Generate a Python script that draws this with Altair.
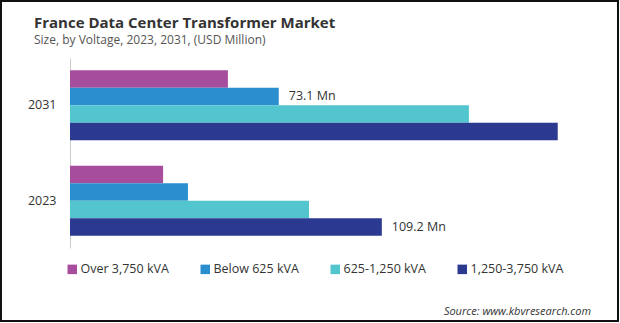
import altair as alt
import pandas as pd

years = ["2031", "2023"]
series = ["Over 3,750 kVA", "Below 625 kVA", "625-1,250 kVA", "1,250-3,750 kVA"]
values_2031 = [55.3, 73.1, 139.7, 170.8]
values_2023 = [32.6, 41.3, 83.7, 109.2]
colors = ["#A64D9E", "#2B8ECF", "#52C5CF", "#2B3990"]
labelled = [("2031", "Below 625 kVA"), ("2023", "1,250-3,750 kVA")]
title_text = "France Data Center Transformer Market"
subtitle_text = "Size, by Voltage, 2023, 2031, (USD Million)"
source_text = "Source: www.kbvresearch.com"

rows = []
for yr, vals in zip(years, [values_2031, values_2023]):
    for s, v in zip(series, vals):
        lab = f"{v:.1f} Mn" if (yr, s) in labelled else ""
        rows.append({"Year": yr, "Voltage": s, "Value": v, "Label": lab})
df = pd.DataFrame(rows)

FONT = "Open Sans"

y_enc = alt.Y("Year:N", sort=years,
              scale=alt.Scale(paddingInner=0.267, paddingOuter=0.128),
              axis=alt.Axis(title=None, ticks=False, labelFontSize=12.5, labelColor="#333333",
                            labelPadding=14, domainColor="#cccccc", labelFont=FONT, grid=False))
x_enc = alt.X("Value:Q", scale=alt.Scale(domain=[0, 180]), axis=None)
yoff = alt.YOffset("Voltage:N", sort=series, scale=alt.Scale(paddingInner=0, paddingOuter=0))

bars = alt.Chart(df).mark_bar(size=17.5).encode(
    y=y_enc, x=x_enc, yOffset=yoff,
    color=alt.Color("Voltage:N", sort=series,
                    scale=alt.Scale(domain=series, range=colors),
                    legend=alt.Legend(title=None, orient="none", direction="horizontal",
                                      legendX=-4, legendY=205, columns=4, columnPadding=30,
                                      symbolType="square", symbolSize=90, symbolStrokeWidth=0,
                                      labelFontSize=12.5, labelFont=FONT, labelColor="#333333",
                                      labelOffset=2, symbolOpacity=1))
)

labels = alt.Chart(df).mark_text(align="left", baseline="middle", dx=10, fontSize=12.5,
                                 font=FONT, color="#333333").encode(
    y=alt.Y("Year:N", sort=years), x="Value:Q", yOffset=yoff, text="Label:N"
)

title = alt.Chart(pd.DataFrame({"t": [title_text]})).mark_text(
    align="left", baseline="alphabetic", fontSize=15, font=FONT, fontWeight="bold", color="#333333"
).encode(x=alt.value(-36), y=alt.value(-30), text="t:N")

subtitle = alt.Chart(pd.DataFrame({"t": [subtitle_text]})).mark_text(
    align="left", baseline="alphabetic", fontSize=12, font=FONT, color="#555555"
).encode(x=alt.value(-36), y=alt.value(-14), text="t:N")

source = alt.Chart(pd.DataFrame({"t": [source_text]})).mark_text(
    align="right", baseline="alphabetic", fontSize=11, font=FONT, fontStyle="italic", color="#333333"
).encode(x=alt.value(521), y=alt.value(257), text="t:N")

border = alt.Chart(pd.DataFrame({"a": [0]})).mark_rect(
    fill=None, stroke="#111111", strokeWidth=2, clip=False
).encode(x=alt.value(-69), x2=alt.value(548), y=alt.value(-57), y2=alt.value(263))

chart = alt.layer(bars, labels, title, subtitle, source, border).properties(
    width=514, height=190,
    autosize=alt.AutoSizeParams(type="none"),
    padding={"left": 70, "top": 58, "right": 36, "bottom": 75},
).configure(background="white", view=alt.ViewConfig(stroke=None))

chart.save("out.html", embed_options={"renderer": "svg", "actions": False})
